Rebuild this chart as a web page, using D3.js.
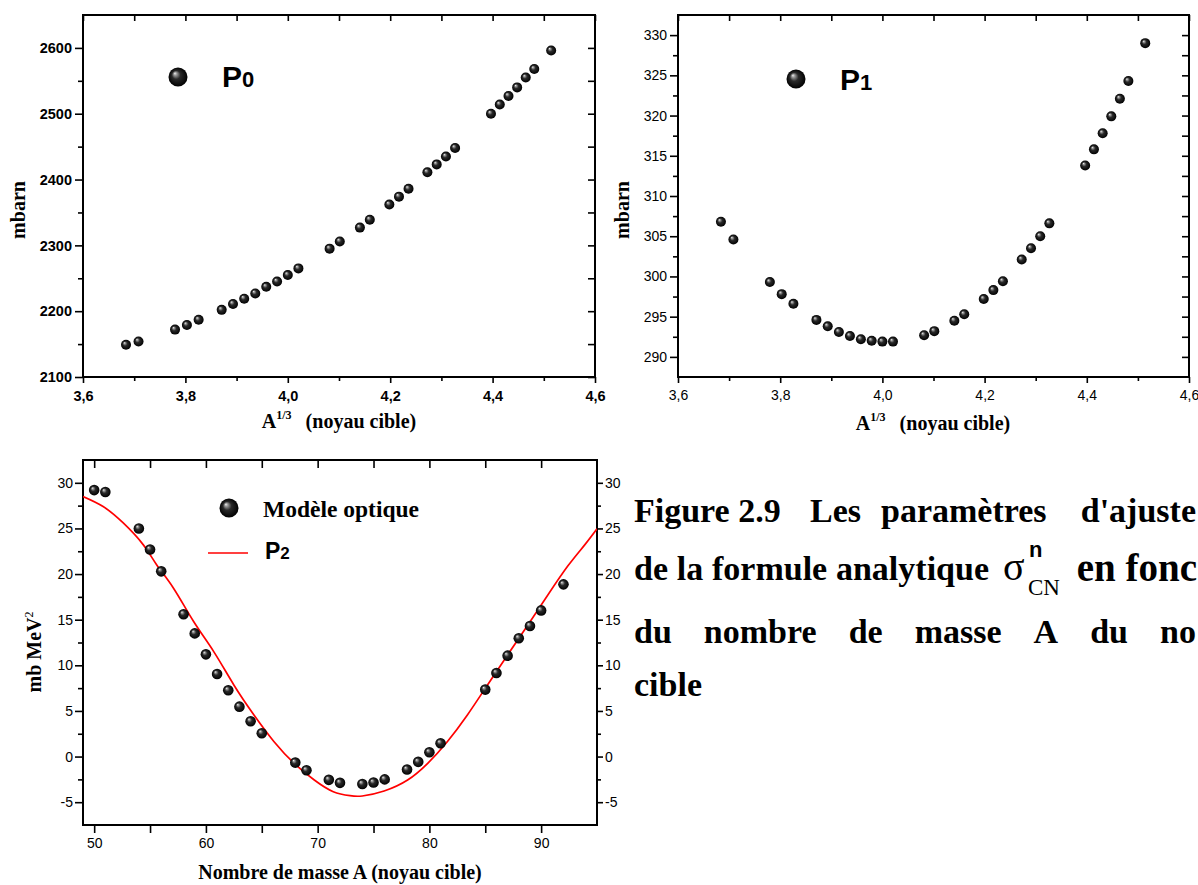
<!DOCTYPE html>
<html>
<head>
<meta charset="utf-8">
<script src="https://cdn.jsdelivr.net/npm/d3@7"></script>
<style>
  html, body { margin: 0; padding: 0; background: #fff; }
  svg { display: block; }
</style>
</head>
<body>
<svg id="fig" width="1198" height="885"></svg>
<script>
// ---- Data -------------------------------------------------------------
// Mass numbers A of the target nuclei
const massNumbers = [50, 51, 54, 55, 56, 58, 59, 60, 61, 62, 63, 64, 65, 68, 69, 71,
                     72, 74, 75, 76, 78, 79, 80, 81, 85, 86, 87, 88, 89, 90, 92];
// Fit parameter P0 (mbarn)
const p0Values = [2149, 2154, 2172, 2179, 2187, 2202, 2211, 2219, 2227, 2237, 2245, 2255,
                  2265, 2295, 2306, 2327, 2339, 2362, 2374, 2386, 2411, 2423, 2435, 2448,
                  2500, 2514, 2527, 2540, 2555, 2568, 2596];
// Fit parameter P1 (mbarn)
const p1Values = [306.8, 304.6, 299.3, 297.8, 296.6, 294.6, 293.8, 293.1, 292.6, 292.2,
                  292.0, 291.9, 291.9, 292.7, 293.2, 294.5, 295.3, 297.2, 298.3, 299.4,
                  302.1, 303.5, 305.0, 306.6, 313.8, 315.8, 317.8, 319.9, 322.1, 324.3, 329.0];
// Optical-model values of P2 (mb MeV^2)
const p2Values = [29.2, 29.0, 25.0, 22.7, 20.3, 15.6, 13.5, 11.2, 9.05, 7.26, 5.47, 3.87,
                  2.55, -0.66, -1.5, -2.55, -2.88, -3.0, -2.85, -2.5, -1.42, -0.58, 0.47,
                  1.46, 7.34, 9.16, 11.06, 12.96, 14.31, 16.02, 18.87];
// Analytic P2 curve
const fitA  = [49, 50.8, 52.6, 54.4, 55.6, 57.1, 58.9, 60.7, 62.5, 64.3, 66.1, 67.9, 69.7,
               71.4, 72.9, 74.0, 75.95, 78.05, 79.85, 81.6, 83.4, 85.2, 87.0, 88.8, 90.6,
               92.4, 93.9, 95];
const fitP2 = [28.5, 27.4, 25.6, 23.2, 21.0, 18.45, 14.8, 11.5, 7.85, 4.56, 1.63, -0.74,
               -2.57, -3.85, -4.29, -4.32, -3.77, -2.57, -0.74, 1.63, 4.56, 7.85, 11.14,
               14.4, 17.7, 20.9, 23.2, 24.96];

// Tick values
const cubeRootMajor = [3.6, 3.8, 4.0, 4.2, 4.4, 4.6];
const cubeRootMinor = [3.7, 3.9, 4.1, 4.3, 4.5];
const p0Major = [2100, 2200, 2300, 2400, 2500, 2600];
const p0Minor = [2150, 2250, 2350, 2450, 2550];
const p1Major = [290, 295, 300, 305, 310, 315, 320, 325, 330];
const p1Minor = [292.5, 297.5, 302.5, 307.5, 312.5, 317.5, 322.5, 327.5];
const massMajor = [50, 60, 70, 80, 90];
const massMinor = [55, 65, 75, 85];
const p2Major = [-5, 0, 5, 10, 15, 20, 25, 30];
const p2Minor = [-2.5, 2.5, 7.5, 12.5, 17.5, 22.5, 27.5];

// ---- Setup ------------------------------------------------------------
const SERIF = '"Liberation Serif","Times New Roman",Times,serif';
const SANS = '"Liberation Sans",Arial,Helvetica,sans-serif';
const NARROW = '"Liberation Sans Narrow","Arial Narrow","Liberation Sans",Arial,sans-serif';

const svg = d3.select("#fig");
const defs = svg.append("defs");

// shaded sphere used for the markers
const grad = defs.append("radialGradient").attr("id", "sphere")
  .attr("cx", "50%").attr("cy", "50%").attr("r", "50%")
  .attr("fx", "33%").attr("fy", "30%");
[[0, "#f2f2f2"], [0.16, "#9c9c9c"], [0.45, "#2a2a2a"], [1, "#000"]]
  .forEach(([o, c]) => grad.append("stop").attr("offset", o).attr("stop-color", c));

const commaFmt = d3.formatLocale({ decimal: ",", thousands: "", grouping: [3], currency: ["", ""], minus: "-" })
  .format(".1f");
const intFmt = d => String(d);

function styleAxis(sel, font) {
  sel.select(".domain").remove();
  sel.selectAll("line").attr("stroke", "#000").attr("stroke-width", 1.6);
  sel.selectAll("text")
    .attr("font-family", font.family)
    .attr("font-size", font.size)
    .attr("font-weight", font.weight)
    .attr("fill", "#000");
}

function addAxis(g, axis, tx, ty, font) {
  const a = g.append("g").attr("transform", `translate(${tx},${ty})`).call(axis);
  styleAxis(a, font || { family: SANS, size: 14, weight: "normal" });
  return a;
}

function frame(g, x, y) {
  const [x0, x1] = x.range();
  const [y0, y1] = y.range();
  g.append("rect")
    .attr("x", x0).attr("y", y1)
    .attr("width", x1 - x0).attr("height", y0 - y1)
    .attr("fill", "none").attr("stroke", "#000").attr("stroke-width", 2);
}

function markers(g, xs, ys, x, y, r) {
  g.append("g").selectAll("circle")
    .data(xs.map((d, i) => [d, ys[i]]))
    .join("circle")
    .attr("cx", d => x(d[0]))
    .attr("cy", d => y(d[1]))
    .attr("r", r)
    .attr("fill", "url(#sphere)");
}

// Legend label "P" with a small index digit on the baseline
function pLabel(g, px, py, idx, big, small) {
  const t = g.append("text").attr("x", px).attr("y", py)
    .attr("font-family", NARROW).attr("font-weight", "bold").attr("fill", "#000");
  t.append("tspan").attr("font-size", big).text("P");
  t.append("tspan").attr("font-size", small).text(idx);
}

// x-axis title "A^1/3   (noyau cible)"
function cubeRootTitle(g, cx, by) {
  const t = g.append("text").attr("x", cx).attr("y", by).attr("text-anchor", "middle")
    .attr("font-family", SERIF).attr("font-weight", "bold").attr("font-size", 20).attr("fill", "#000");
  t.append("tspan").text("A");
  t.append("tspan").attr("font-size", 12).attr("dy", -9).text("1/3");
  t.append("tspan").attr("dy", 9).attr("dx", 14).text("(noyau cible)");
}

function yTitle(g, cx, cy, parts) {
  const t = g.append("text").attr("transform", `translate(${cx},${cy}) rotate(-90)`)
    .attr("text-anchor", "middle")
    .attr("font-family", SERIF).attr("font-weight", "bold").attr("font-size", 20).attr("fill", "#000");
  parts(t);
}

// ---- Panel P0 ---------------------------------------------------------
{
  const g = svg.append("g");
  const x = d3.scaleLinear().domain([3.6, 4.6]).range([83, 595]);
  const y = d3.scaleLinear().domain([2100, 2650]).range([377, 15]);
  const boldTick = { family: SANS, size: 14.5, weight: "bold" };
  addAxis(g, d3.axisBottom(x).tickValues(cubeRootMajor).tickFormat(commaFmt).tickSize(6).tickPadding(8), 0, 377, boldTick);
  addAxis(g, d3.axisBottom(x).tickValues(cubeRootMinor).tickFormat("").tickSize(4), 0, 377);
  addAxis(g, d3.axisTop(x).tickValues(cubeRootMajor.concat(cubeRootMinor)).tickFormat("").tickSize(-6), 0, 15);
  addAxis(g, d3.axisLeft(y).tickValues(p0Major).tickFormat(intFmt).tickSize(8).tickPadding(3), 83, 0, boldTick);
  addAxis(g, d3.axisLeft(y).tickValues(p0Minor).tickFormat("").tickSize(5), 83, 0);
  addAxis(g, d3.axisRight(y).tickValues(p0Major.concat(p0Minor)).tickFormat("").tickSize(-7), 595, 0);
  frame(g, x, y);
  markers(g, massNumbers.map(Math.cbrt), p0Values, x, y, 5);

  g.append("circle").attr("cx", 178).attr("cy", 77).attr("r", 9.5).attr("fill", "url(#sphere)");
  pLabel(g, 222, 87, "0", 30, 22);

  cubeRootTitle(g, 339, 428);
  yTitle(g, 25, 210, t => t.text("mbarn"));
}

// ---- Panel P1 ---------------------------------------------------------
{
  const g = svg.append("g");
  const x = d3.scaleLinear().domain([3.6, 4.6]).range([678, 1189]);
  const y = d3.scaleLinear().domain([287.5, 332.5]).range([377, 15]);
  const tick = { family: SANS, size: 14, weight: "normal" };
  addAxis(g, d3.axisBottom(x).tickValues(cubeRootMajor).tickFormat(commaFmt).tickSize(6).tickPadding(7), 0, 377, tick);
  addAxis(g, d3.axisBottom(x).tickValues(cubeRootMinor).tickFormat("").tickSize(4), 0, 377);
  addAxis(g, d3.axisTop(x).tickValues(cubeRootMajor.concat(cubeRootMinor)).tickFormat("").tickSize(-6), 0, 15);
  addAxis(g, d3.axisLeft(y).tickValues(p1Major).tickFormat(intFmt).tickSize(8).tickPadding(3), 678, 0, tick);
  addAxis(g, d3.axisLeft(y).tickValues(p1Minor).tickFormat("").tickSize(5), 678, 0);
  addAxis(g, d3.axisRight(y).tickValues(p1Major.concat(p1Minor)).tickFormat("").tickSize(-7), 1189, 0);
  frame(g, x, y);
  markers(g, massNumbers.map(Math.cbrt), p1Values, x, y, 5);

  g.append("circle").attr("cx", 796).attr("cy", 79).attr("r", 9.5).attr("fill", "url(#sphere)");
  pLabel(g, 840, 90, "1", 30, 22);

  cubeRootTitle(g, 933, 430);
  yTitle(g, 629, 210, t => t.text("mbarn"));
}

// ---- Panel P2 ---------------------------------------------------------
{
  const g = svg.append("g");
  const x = d3.scaleLinear().domain([49, 95]).range([83, 597]);
  const y = d3.scaleLinear().domain([-7.5, 32.5]).range([825, 460]);
  const tick = { family: SANS, size: 14, weight: "normal" };
  addAxis(g, d3.axisBottom(x).tickValues(massMajor).tickFormat(intFmt).tickSize(8).tickPadding(5), 0, 825, tick);
  addAxis(g, d3.axisBottom(x).tickValues(massMinor).tickFormat("").tickSize(8), 0, 825);
  addAxis(g, d3.axisTop(x).tickValues(massMajor.concat(massMinor)).tickFormat("").tickSize(-8), 0, 460);
  addAxis(g, d3.axisLeft(y).tickValues(p2Major).tickFormat(intFmt).tickSize(8).tickPadding(2), 83, 0, tick);
  addAxis(g, d3.axisLeft(y).tickValues(p2Minor).tickFormat("").tickSize(5), 83, 0);
  addAxis(g, d3.axisRight(y).tickValues(p2Major).tickFormat(intFmt).tickSize(6).tickPadding(2), 597, 0, tick);
  addAxis(g, d3.axisRight(y).tickValues(p2Minor).tickFormat("").tickSize(4), 597, 0);
  frame(g, x, y);

  defs.append("clipPath").attr("id", "clipP2").append("rect")
    .attr("x", 83).attr("y", 460).attr("width", 514).attr("height", 365);
  const line = d3.line().x(d => x(d[0])).y(d => y(d[1])).curve(d3.curveNatural);
  g.append("path")
    .datum(fitA.map((a, i) => [a, fitP2[i]]))
    .attr("d", line)
    .attr("clip-path", "url(#clipP2)")
    .attr("fill", "none").attr("stroke", "#ff0000").attr("stroke-width", 1.7);

  markers(g, massNumbers, p2Values, x, y, 5.3);

  // legend
  g.append("circle").attr("cx", 229).attr("cy", 508).attr("r", 9.5).attr("fill", "url(#sphere)");
  g.append("text").attr("x", 263).attr("y", 517)
    .attr("font-family", SERIF).attr("font-weight", "bold").attr("font-size", 23.5).attr("fill", "#000")
    .text("Modèle optique");
  g.append("line").attr("x1", 208).attr("x2", 248).attr("y1", 553).attr("y2", 553)
    .attr("stroke", "#ff0000").attr("stroke-width", 1.7);
  pLabel(g, 265, 559, "2", 23, 17);

  g.append("text").attr("x", 340).attr("y", 879).attr("text-anchor", "middle")
    .attr("font-family", SERIF).attr("font-weight", "bold").attr("font-size", 20).attr("fill", "#000")
    .text("Nombre de masse A (noyau cible)");
  yTitle(g, 41, 652, t => {
    t.append("tspan").text("mb MeV");
    t.append("tspan").attr("font-size", 12).attr("font-weight", "normal").attr("dy", -8).text("2");
  });
}

// ---- Caption ----------------------------------------------------------
{
  const g = svg.append("g")
    .attr("font-family", SERIF).attr("font-weight", "bold").attr("font-size", 34).attr("fill", "#000");

  const RIGHT = 1196;

  // lay words on a justified line, from x0 to the right margin
  function justify(words, x0, x1, yb) {
    const nodes = words.map(w => g.append("text").attr("y", yb).text(w));
    const widths = nodes.map(n => n.node().getComputedTextLength());
    const gap = (x1 - x0 - d3.sum(widths)) / (words.length - 1);
    let cx = x0;
    nodes.forEach((n, i) => { n.attr("x", cx); cx += widths[i] + gap; });
  }

  // first line
  g.append("text").attr("x", 634).attr("y", 522).text("Figure 2.9");
  g.append("text").attr("x", 810).attr("y", 522).text("Les");
  g.append("text").attr("x", 881).attr("y", 522).text("paramètres");
  g.append("text").attr("x", RIGHT).attr("y", 522).attr("text-anchor", "end").text("d'ajuste");

  // second line
  justify(["de", "la", "formule", "analytique"], 634, 989, 580);
  g.append("text").attr("x", 1003).attr("y", 580)
    .attr("font-weight", "normal").attr("font-size", 40).text("σ");
  g.append("text").attr("x", 1029).attr("y", 557)
    .attr("font-family", NARROW).attr("font-size", 22).text("n");
  g.append("text").attr("x", 1028).attr("y", 595)
    .attr("font-weight", "normal").attr("font-size", 23).text("CN");
  g.append("text").attr("x", RIGHT + 1).attr("y", 581).attr("text-anchor", "end")
    .attr("font-size", 39).text("en fonc");

  // third line
  justify(["du", "nombre", "de", "masse", "A", "du", "no"], 634, RIGHT, 643);

  g.append("text").attr("x", 634).attr("y", 696).text("cible");
}
</script>
</body>
</html>
